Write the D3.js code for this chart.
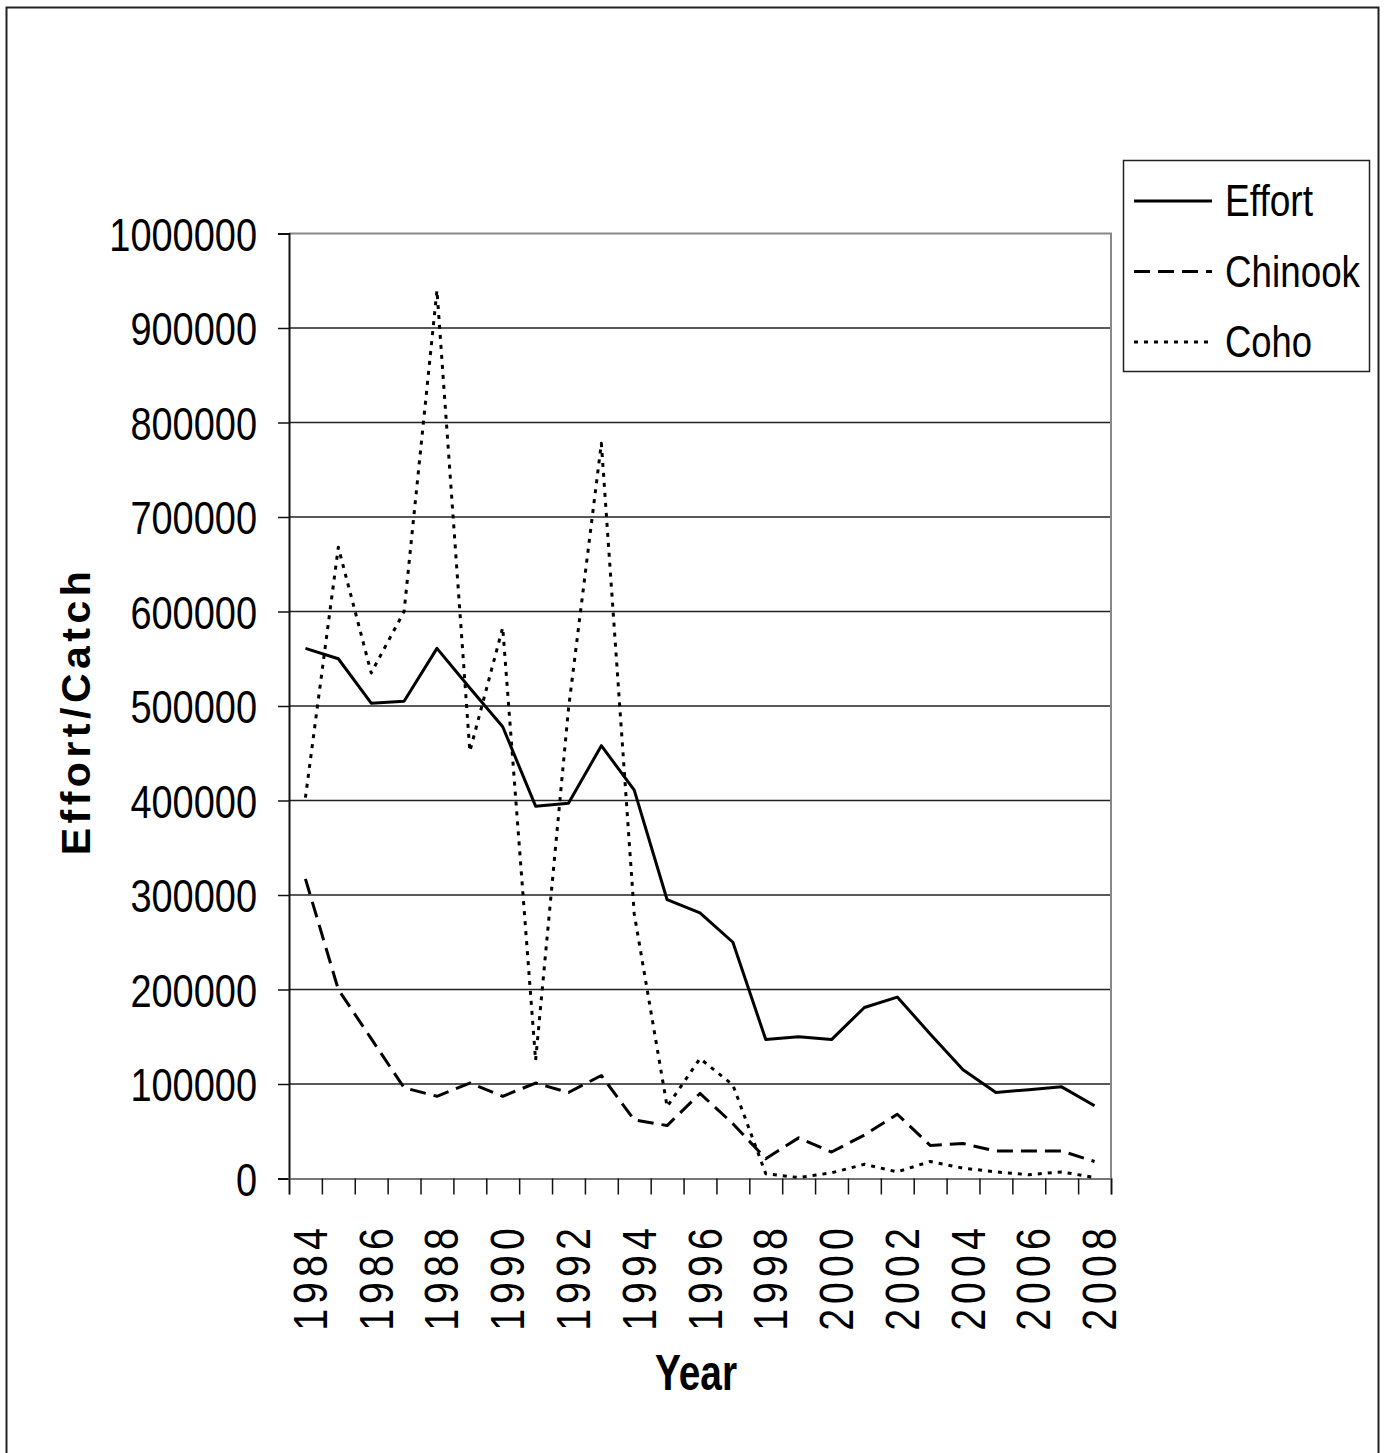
<!DOCTYPE html>
<html>
<head>
<meta charset="utf-8">
<script src="https://cdn.jsdelivr.net/npm/d3@7/dist/d3.min.js"></script>
<style>
  html, body { margin: 0; padding: 0; background: #fff; }
  svg { display: block; }
</style>
</head>
<body>
<svg id="chart" width="1387" height="1453"></svg>
<script>
// Salmon fishery: angler effort and catch by species, 1984-2008
const years = d3.range(1984, 2009);
const effort = [561000, 550000, 503000, 505000, 561000, 519000, 478000, 394000, 397000, 458000,
                411000, 295000, 281000, 250000, 147000, 150000, 147000, 181000, 192000, 153000,
                115000, 91000, 94000, 97000, 77000];
const chinook = [317000, 200000, 148000, 96000, 87000, 101000, 87000, 101000, 91000, 109000,
                 62000, 56000, 90000, 58000, 21000, 43000, 28000, 46000, 68000, 35000,
                 37000, 29000, 29000, 29000, 18000];
const coho = [403000, 668000, 535000, 600000, 940000, 452000, 583000, 125000, 497000, 778000,
              280000, 76000, 127000, 99000, 5000, 1000, 6000, 15000, 7000, 18000,
              11000, 7000, 4000, 7000, 1000];
const yTicks = [0, 100000, 200000, 300000, 400000, 500000, 600000, 700000, 800000, 900000, 1000000];
const yearLabels = years.filter(y => (y - 1984) % 2 === 0);

const series = [
  { name: "Effort", values: effort, dash: null, legendWidth: 88 },
  { name: "Chinook", values: chinook, dash: "16,8", legendWidth: 135 },
  { name: "Coho", values: coho, dash: "4,6", legendWidth: 87 }
];

const FONT = "'Liberation Sans', Arial, sans-serif";
const svg = d3.select("#chart");
const plot = { left: 289, right: 1111, top: 233.5, bottom: 1178.5 };

// outer frame
svg.append("rect")
  .attr("x", 6.5).attr("y", 7.5).attr("width", 1372).attr("height", 1460)
  .attr("fill", "none").attr("stroke", "#222").attr("stroke-width", 2);

const x = d3.scaleBand().domain(years).range([plot.left, plot.right]);
const xEdge = d3.scaleLinear().domain([0, years.length]).range([plot.left, plot.right]);
const y = d3.scaleLinear().domain([0, 1000000]).range([plot.bottom, plot.top]);

// gridlines
svg.append("g")
  .selectAll("line")
  .data(yTicks.filter(d => d > 0 && d < 1000000))
  .join("line")
  .attr("x1", plot.left).attr("x2", plot.right)
  .attr("y1", d => y(d)).attr("y2", d => y(d))
  .attr("stroke", "#222").attr("stroke-width", 1.5);

// top and right frame of plot area
svg.append("line")
  .attr("x1", plot.left).attr("x2", plot.right + 1)
  .attr("y1", plot.top).attr("y2", plot.top)
  .attr("stroke", "#888").attr("stroke-width", 2);
svg.append("line")
  .attr("x1", plot.right).attr("x2", plot.right)
  .attr("y1", plot.top).attr("y2", plot.bottom)
  .attr("stroke", "#888").attr("stroke-width", 2);

// y axis (condensed numerals)
const yAxis = svg.append("g")
  .attr("transform", `translate(${plot.left},0)`)
  .call(d3.axisLeft(y).tickValues(yTicks).tickSize(11).tickPadding(21).tickFormat(d3.format("d")));
yAxis.select(".domain").attr("stroke", "#111").attr("stroke-width", 2);
yAxis.selectAll(".tick line").attr("stroke", "#111").attr("stroke-width", 1.5);
yAxis.selectAll(".tick text")
  .attr("font-family", FONT)
  .attr("font-size", 46).attr("fill", "#000").attr("dy", "0.36em")
  .attr("textLength", function () { return this.textContent.length * 21.1; })
  .attr("lengthAdjust", "spacingAndGlyphs");

// x axis: tick marks at category boundaries
const xTickAxis = svg.append("g")
  .attr("transform", `translate(0,${plot.bottom})`)
  .call(d3.axisBottom(xEdge).tickValues(d3.range(0, years.length + 1)).tickSize(16).tickFormat(""));
xTickAxis.select(".domain").attr("stroke", "#777").attr("stroke-width", 2);
xTickAxis.selectAll(".tick line").attr("stroke", "#111").attr("stroke-width", 1.5);

// x axis labels, rotated, every second year
const xLabelAxis = svg.append("g")
  .attr("transform", `translate(0,${plot.bottom})`)
  .call(d3.axisBottom(x).tickValues(yearLabels).tickSize(0).tickFormat(d3.format("d")));
xLabelAxis.select(".domain").remove();
xLabelAxis.selectAll(".tick text")
  .attr("font-family", FONT)
  .attr("font-size", 48).attr("fill", "#000")
  .attr("letter-spacing", 6.2)
  .attr("text-anchor", "end")
  .attr("dy", null)
  .attr("transform", "translate(21.5,44.5) rotate(-90) scale(0.82,1)")
  .attr("x", 0).attr("y", 0);

// series lines
const line = d3.line()
  .x((d, i) => x(years[i]) + x.bandwidth() / 2)
  .y(d => y(d));
svg.append("g")
  .selectAll("path")
  .data(series)
  .join("path")
  .attr("d", d => line(d.values))
  .attr("fill", "none")
  .attr("stroke", "#000")
  .attr("stroke-width", 3)
  .attr("stroke-linejoin", "round")
  .attr("stroke-dasharray", d => d.dash);

// axis titles
svg.append("text")
  .attr("transform", "translate(90,711) rotate(-90)")
  .attr("text-anchor", "middle")
  .attr("font-family", FONT)
  .attr("font-weight", "bold").attr("font-size", 41)
  .attr("letter-spacing", 4.5)
  .text("Effort/Catch");
svg.append("text")
  .attr("x", 655).attr("y", 1390)
  .attr("font-family", FONT)
  .attr("font-weight", "bold").attr("font-size", 50)
  .attr("textLength", 82).attr("lengthAdjust", "spacingAndGlyphs")
  .text("Year");

// legend
const legend = svg.append("g");
legend.append("rect")
  .attr("x", 1123.5).attr("y", 160.5).attr("width", 246).attr("height", 211)
  .attr("fill", "#fff").attr("stroke", "#222").attr("stroke-width", 1.5);
const rows = legend.selectAll("g.row")
  .data(series)
  .join("g").attr("class", "row")
  .attr("transform", (d, i) => `translate(0,${201 + i * 70.5})`);
rows.append("line")
  .attr("x1", 1134).attr("x2", 1212).attr("y1", 0).attr("y2", 0)
  .attr("stroke", "#000").attr("stroke-width", 3)
  .attr("stroke-dasharray", d => d.dash);
rows.append("text")
  .attr("x", 1225).attr("y", 15)
  .attr("font-family", FONT)
  .attr("font-size", 44).attr("fill", "#000")
  .attr("textLength", d => d.legendWidth).attr("lengthAdjust", "spacingAndGlyphs")
  .text(d => d.name);
</script>
</body>
</html>
